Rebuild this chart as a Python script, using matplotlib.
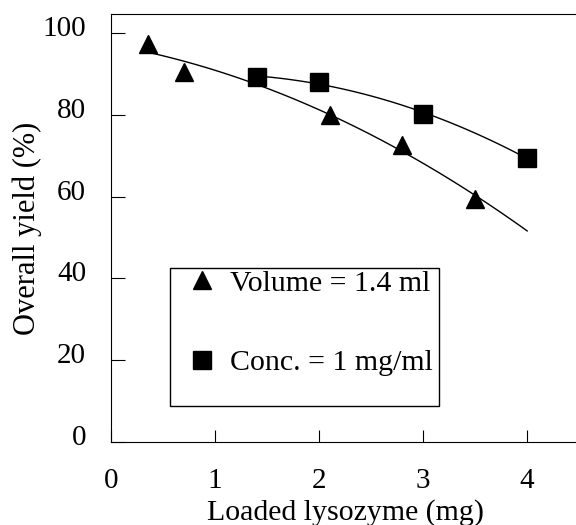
import numpy as np
import matplotlib.pyplot as plt
from matplotlib.patches import Rectangle
from matplotlib.transforms import ScaledTranslation

plt.rcParams['font.family'] = ['Liberation Serif', 'DejaVu Serif']

# Volume = 1.4 ml series
vol_x = [0.35, 0.7, 2.1, 2.8, 3.5]
vol_y = [97.3, 90.5, 80.0, 72.6, 59.4]
# Conc. = 1 mg/ml series
conc_x = [1.4, 2.0, 3.0, 4.0]
conc_y = [89.3, 87.9, 80.3, 69.4]

xticks = [0, 1, 2, 3, 4]
yticks = [0, 20, 40, 60, 80, 100]

fig = plt.figure(figsize=(5.76, 5.25), dpi=100)
ax = fig.add_axes([0.193, 0.158, 0.8125, 0.815])

# quadratic trend lines through each series (Excel-like)
p1 = np.polyfit(vol_x, vol_y, 2)
t1 = np.linspace(vol_x[0], 4.0, 100)
ax.plot(t1, np.polyval(p1, t1), color='black', lw=1.0)
p2 = np.polyfit(conc_x, conc_y, 2)
t2 = np.linspace(conc_x[0], conc_x[-1], 100)
ax.plot(t2, np.polyval(p2, t2), color='black', lw=1.0)

ax.plot(vol_x, vol_y, linestyle='none', marker='^', ms=13, color='black',
        label='Volume = 1.4 ml')
ax.plot(conc_x, conc_y, linestyle='none', marker='s', ms=13, color='black',
        label='Conc. = 1 mg/ml')

ax.set_xlim(0, 4.5)
ax.set_ylim(0, 104.6)
ax.set_xticks(xticks)
ax.set_yticks(yticks)
ax.spines['right'].set_visible(False)
ax.tick_params(axis='x', direction='in', length=9, pad=19, labelsize=21)
ax.tick_params(axis='y', direction='in', length=10, pad=18, labelsize=21)
# y tick labels sit a little above their ticks in the original
for lab in ax.get_yticklabels():
    lab.set_transform(lab.get_transform() + ScaledTranslation(0, 5/72, fig.dpi_scale_trans))
ax.set_xlabel('Loaded lysozyme (mg)', fontsize=21.5, labelpad=3)
ax.set_ylabel('Overall yield (%)', fontsize=22, labelpad=0.5)

leg = ax.legend(loc='upper left', bbox_to_anchor=(0.162, 0.402), fontsize=21.5,
                handlelength=1.0, handletextpad=0.43, labelspacing=1.75,
                borderpad=0, borderaxespad=0, frameon=False)
# legend box as drawn in the original (tight on top/right, loose bottom/left)
ax.add_patch(Rectangle((0.126, 0.084), 0.575, 0.3225, transform=ax.transAxes,
                       fill=False, edgecolor='black', lw=1.0, zorder=5))

fig.savefig('out.png', dpi=100)
